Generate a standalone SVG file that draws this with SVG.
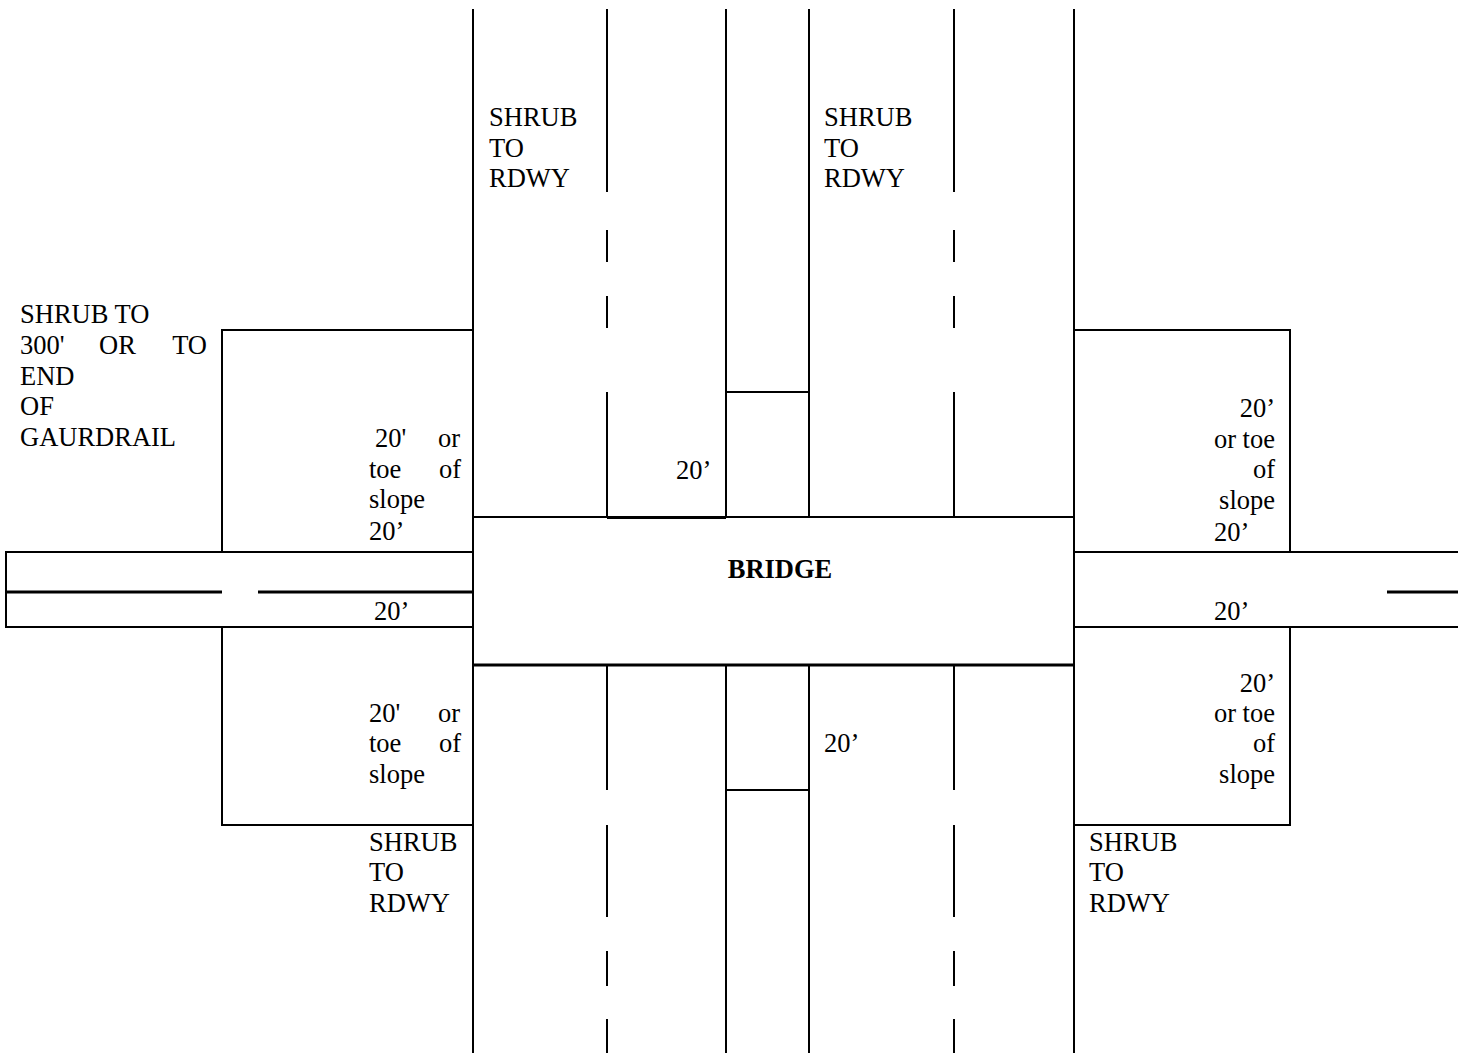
<svg xmlns="http://www.w3.org/2000/svg" width="1466" height="1053" viewBox="0 0 1466 1053" font-family="'Liberation Serif', 'Times New Roman', 'DejaVu Serif', serif">
<style>
.l{stroke:#000;stroke-width:2;fill:none}
.t{stroke:#000;stroke-width:3;fill:none}
text{font-family:'Liberation Serif','Times New Roman','DejaVu Serif',serif;font-size:26.5px;fill:#000}
.e{text-anchor:end}
.b{font-weight:bold;text-anchor:middle}
</style>
<rect width="1466" height="1053" fill="#fff"/>
<g id="connectors">
<line class="l" x1="473" y1="9" x2="473" y2="1053"/>
<line class="l" x1="1074" y1="9" x2="1074" y2="1053"/>
<line class="l" x1="726" y1="9" x2="726" y2="517"/>
<line class="l" x1="809" y1="9" x2="809" y2="517"/>
<line class="l" x1="726" y1="665" x2="726" y2="1053"/>
<line class="l" x1="809" y1="665" x2="809" y2="1053"/>
<line class="l" x1="726" y1="392" x2="809" y2="392"/>
<line class="l" x1="726" y1="790" x2="809" y2="790"/>
<path class="l" d="M607 9V192M607 230V262M607 296V328M607 392V517M607 665V790M607 825V917M607 951V986M607 1019V1053"/>
<path class="l" d="M954 9V192M954 230V262M954 296V328M954 392V517M954 665V790M954 825V917M954 951V986M954 1019V1053"/>
<line class="t" x1="607" y1="517.5" x2="726" y2="517.5"/>
<path class="l" d="M473 552H6V627H473"/>
<path class="l" d="M1074 552H1458M1074 627H1458"/>
<path class="t" d="M6 592H222M258 592H473M1387 592H1458"/>
</g>
<g id="bridge">
<rect class="l" x="473" y="517" width="601" height="148"/>
<line class="t" x1="473" y1="665" x2="1074" y2="665"/>
<text class="b" x="780" y="578">BRIDGE</text>
</g>
<g id="box-upper-left">
<path class="l" d="M473 330H222V552"/>
<text x="20" y="323">SHRUB TO</text>
<text x="20" y="354">300'</text>
<text x="99" y="354">OR</text>
<text class="e" x="207" y="354">TO</text>
<text x="20" y="385">END</text>
<text x="20" y="415">OF</text>
<text x="20" y="446">GAURDRAIL</text>
<text x="375" y="447">20'</text>
<text class="e" x="460" y="447">or</text>
<text x="369" y="478">toe</text>
<text class="e" x="461" y="478">of</text>
<text x="369" y="508">slope</text>
<text x="369" y="540">20’</text>
<text x="374" y="620">20’</text>
</g>
<g id="box-lower-left">
<path class="l" d="M222 627V825H473"/>
<text x="369" y="722">20'</text>
<text class="e" x="460" y="722">or</text>
<text x="369" y="752">toe</text>
<text class="e" x="461" y="752">of</text>
<text x="369" y="783">slope</text>
<text x="369" y="851">SHRUB</text>
<text x="369" y="881">TO</text>
<text x="369" y="912">RDWY</text>
</g>
<g id="box-upper-right">
<path class="l" d="M1074 330H1290V552"/>
<text class="e" x="1275" y="417">20’</text>
<text class="e" x="1275" y="448">or toe</text>
<text class="e" x="1275" y="478">of</text>
<text class="e" x="1275" y="509">slope</text>
<text x="1214" y="541">20’</text>
<text x="1214" y="620">20’</text>
</g>
<g id="box-lower-right">
<path class="l" d="M1290 627V825H1074"/>
<text class="e" x="1275" y="692">20’</text>
<text class="e" x="1275" y="722">or toe</text>
<text class="e" x="1275" y="752">of</text>
<text class="e" x="1275" y="783">slope</text>
<text x="1089" y="851">SHRUB</text>
<text x="1089" y="881">TO</text>
<text x="1089" y="912">RDWY</text>
</g>
<g id="lanes-labels">
<text x="489" y="126">SHRUB</text>
<text x="489" y="157">TO</text>
<text x="489" y="187">RDWY</text>
<text x="824" y="126">SHRUB</text>
<text x="824" y="157">TO</text>
<text x="824" y="187">RDWY</text>
<text x="676" y="479">20’</text>
<text x="824" y="752">20’</text>
</g>
</svg>
